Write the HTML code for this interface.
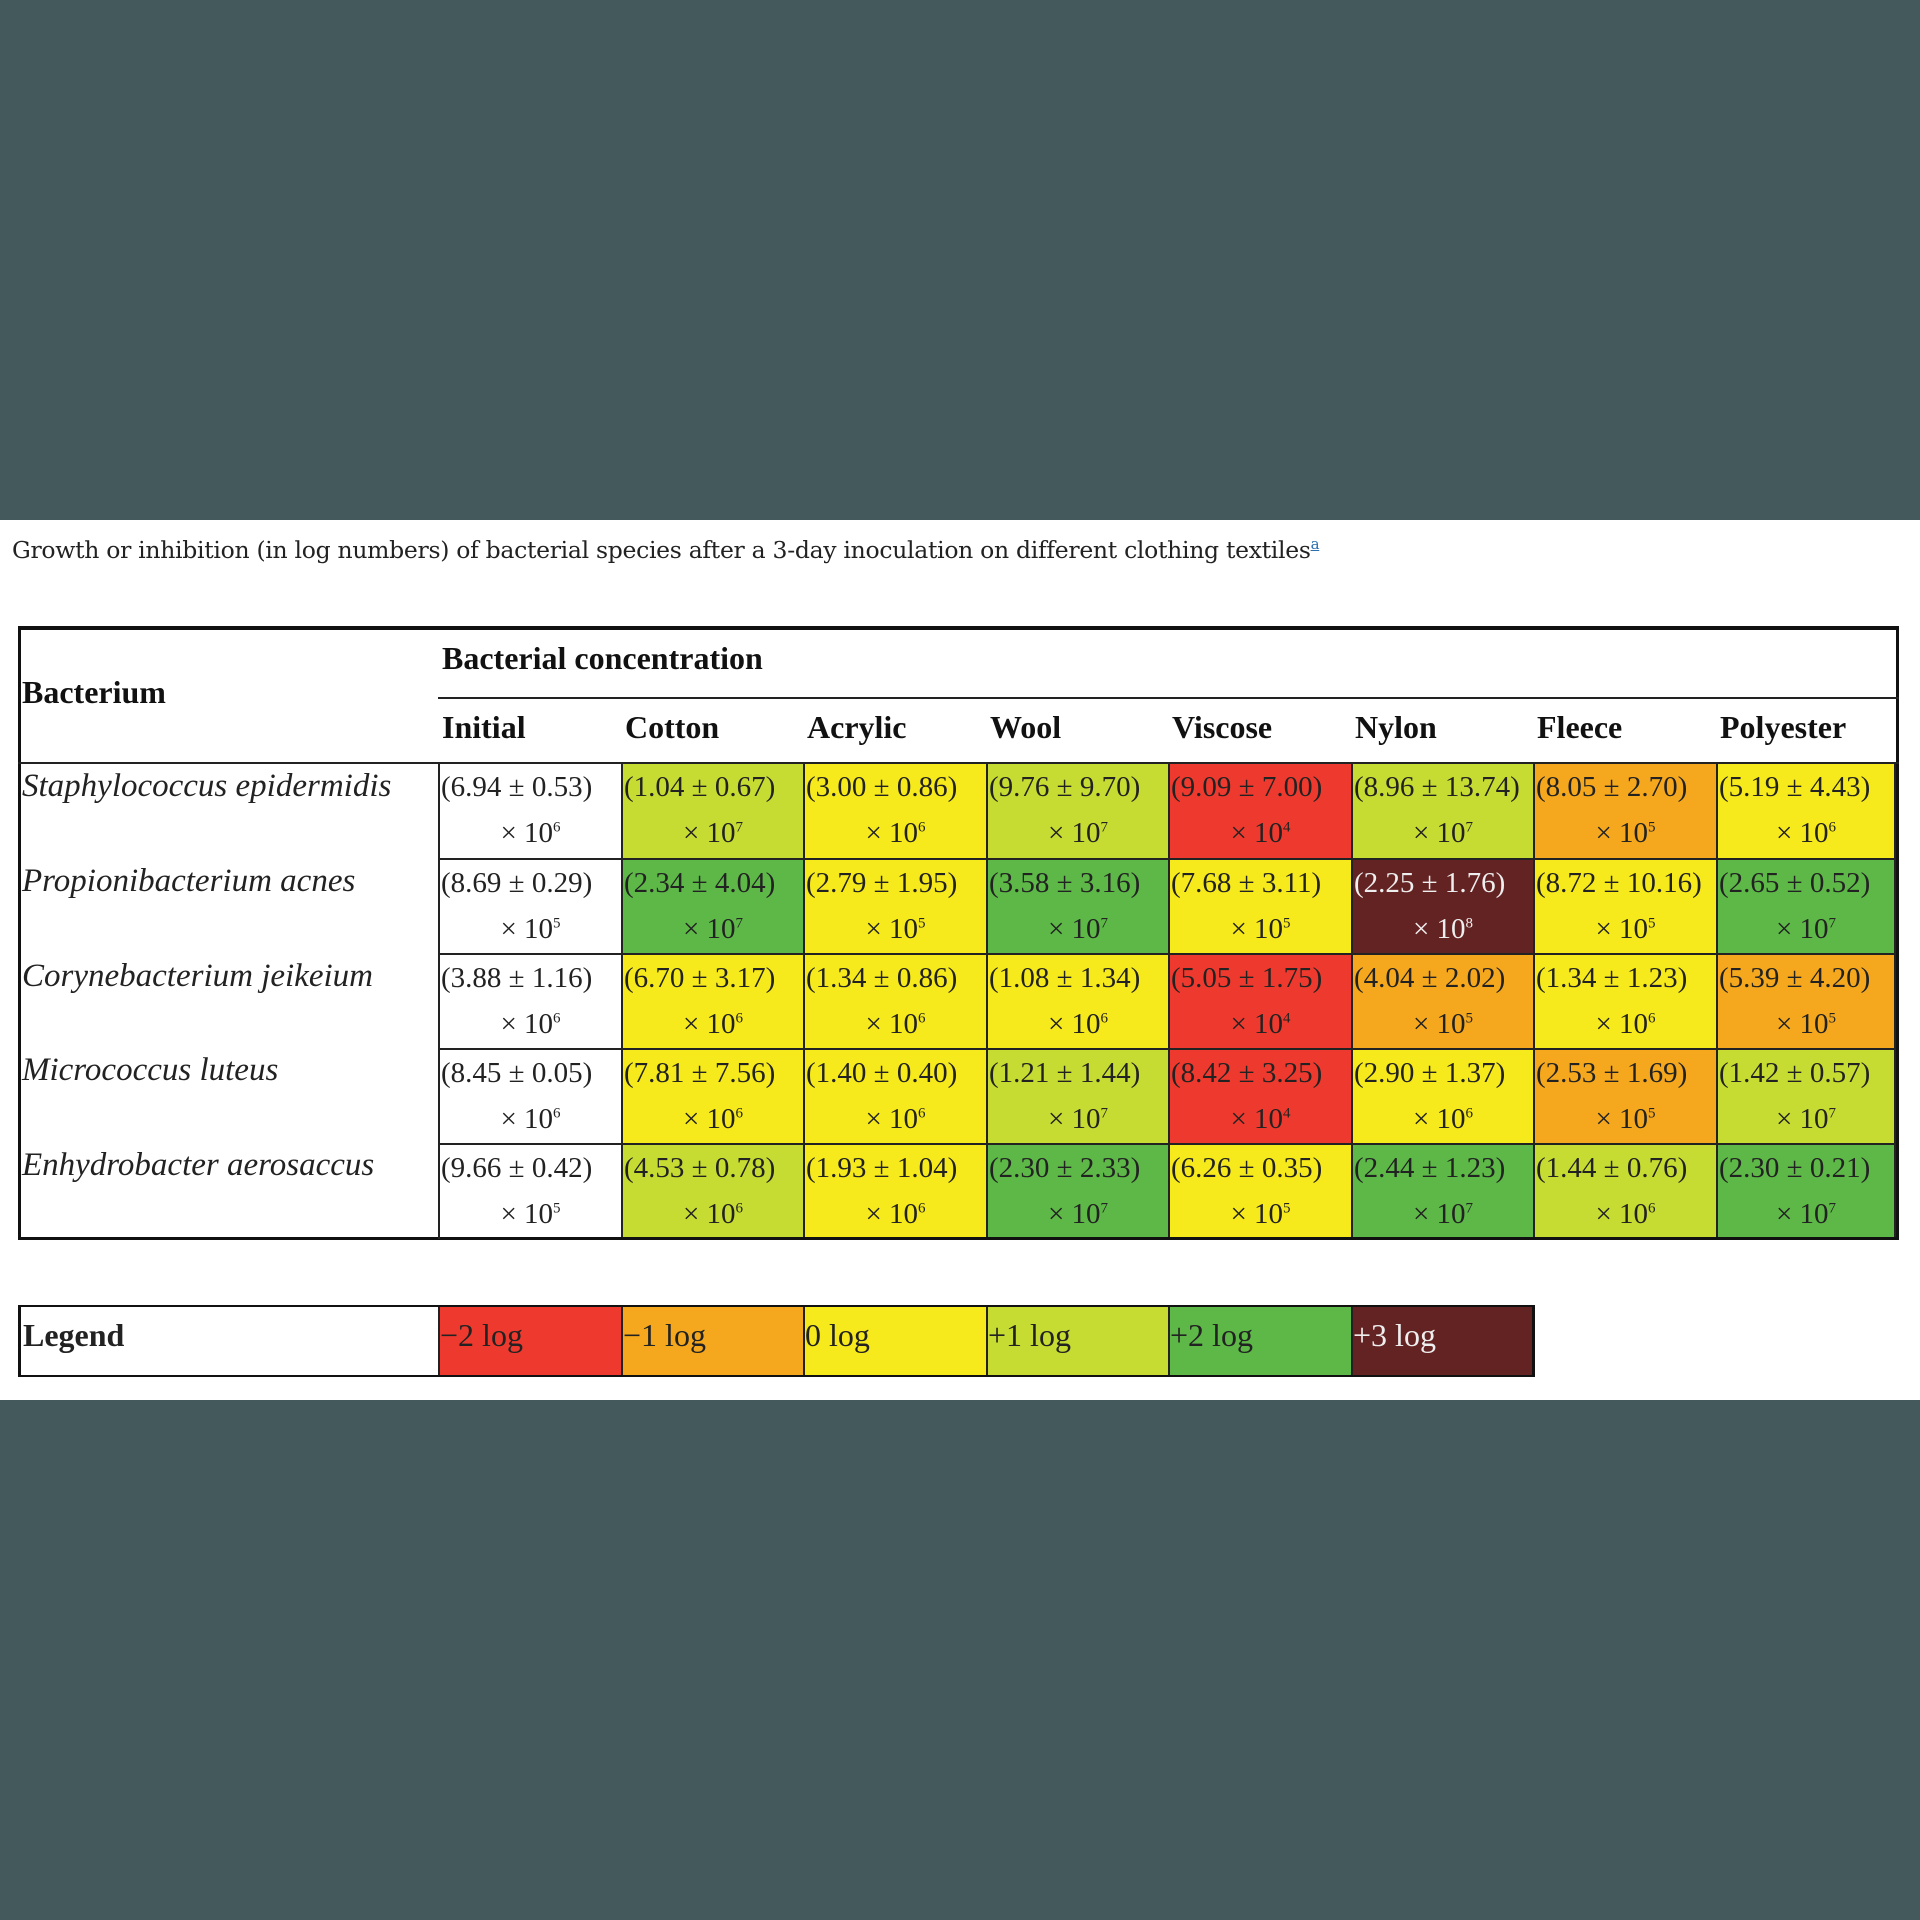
<!DOCTYPE html>
<html><head><meta charset="utf-8"><style>
body{margin:0;width:1920px;height:1920px;background:#43595b;position:relative;overflow:hidden;font-family:"Liberation Serif",serif}
.band{position:absolute;left:0;top:520px;width:1920px;height:880px;background:#fff}
.cap{position:absolute;left:12px;top:535px;font-size:23.5px;color:#222;font-family:"DejaVu Serif","Liberation Serif",serif;letter-spacing:-0.3px}
.cap sup{color:#2a6fb0;text-decoration:underline;font-size:15px}
.c{position:absolute;box-sizing:border-box;border-right:2px solid #222;border-bottom:2px solid #222;font-size:29px;color:#222}
.c .a{position:absolute;left:1px;top:7px;white-space:nowrap}
.c .b{position:absolute;left:0;width:100%;text-align:center;top:53px}
.c .b sup{font-size:15px}
.R{background:#ee3a2e}.O{background:#f5a81e}.Y{background:#f7ea1c}.YG{background:#c7dc32}.G{background:#5db848}.M{background:#642323;color:#eee !important}.W{background:#fff}
.name{position:absolute;left:22px;font-size:33px;font-style:italic;color:#222}
.h{position:absolute;font-weight:bold;font-size:32px;color:#111}
.lg{position:absolute;top:1307px;height:68px;box-sizing:border-box;border-right:2px solid #222;font-size:32px;padding-top:10px;color:#222}
</style></head><body>
<div class="band"></div>
<div class="cap">Growth or inhibition (in log numbers) of bacterial species after a 3-day inoculation on different clothing textiles<sup>a</sup></div>

<div style="position:absolute;left:18px;top:626px;width:1881px;height:614px;border:3px solid #111;border-top-width:4px;box-sizing:border-box"></div>
<div style="position:absolute;left:438px;top:697px;width:1461px;height:2px;background:#222"></div>
<div style="position:absolute;left:18px;top:762px;width:1881px;height:2px;background:#222"></div>
<div class="h" style="left:22px;top:674px">Bacterium</div>
<div class="h" style="left:442px;top:640px">Bacterial concentration</div>
<div class="h" style="left:442px;top:709px">Initial</div>
<div class="h" style="left:625px;top:709px">Cotton</div>
<div class="h" style="left:807px;top:709px">Acrylic</div>
<div class="h" style="left:990px;top:709px">Wool</div>
<div class="h" style="left:1172px;top:709px">Viscose</div>
<div class="h" style="left:1355px;top:709px">Nylon</div>
<div class="h" style="left:1537px;top:709px">Fleece</div>
<div class="h" style="left:1720px;top:709px">Polyester</div>

<div class="name" style="top:768px">Staphylococcus epidermidis</div>
<div class="name" style="top:863px">Propionibacterium acnes</div>
<div class="name" style="top:958px">Corynebacterium jeikeium</div>
<div class="name" style="top:1052px">Micrococcus luteus</div>
<div class="name" style="top:1147px">Enhydrobacter aerosaccus</div>

<div style="position:absolute;left:438px;top:764px;width:2px;height:475px;background:#222"></div>

<!-- Row 1 -->
<div class="c W" style="left:440px;top:764px;width:183px;height:96px"><span class="a">(6.94 ± 0.53)</span><span class="b">× 10<sup>6</sup></span></div>
<div class="c YG" style="left:623px;top:764px;width:182px;height:96px"><span class="a">(1.04 ± 0.67)</span><span class="b">× 10<sup>7</sup></span></div>
<div class="c Y" style="left:805px;top:764px;width:183px;height:96px"><span class="a">(3.00 ± 0.86)</span><span class="b">× 10<sup>6</sup></span></div>
<div class="c YG" style="left:988px;top:764px;width:182px;height:96px"><span class="a">(9.76 ± 9.70)</span><span class="b">× 10<sup>7</sup></span></div>
<div class="c R" style="left:1170px;top:764px;width:183px;height:96px"><span class="a">(9.09 ± 7.00)</span><span class="b">× 10<sup>4</sup></span></div>
<div class="c YG" style="left:1353px;top:764px;width:182px;height:96px"><span class="a">(8.96 ± 13.74)</span><span class="b">× 10<sup>7</sup></span></div>
<div class="c O" style="left:1535px;top:764px;width:183px;height:96px"><span class="a">(8.05 ± 2.70)</span><span class="b">× 10<sup>5</sup></span></div>
<div class="c Y" style="left:1718px;top:764px;width:178px;height:96px"><span class="a">(5.19 ± 4.43)</span><span class="b">× 10<sup>6</sup></span></div>
<!-- Row 2 -->
<div class="c W" style="left:440px;top:860px;width:183px;height:95px"><span class="a">(8.69 ± 0.29)</span><span class="b">× 10<sup>5</sup></span></div>
<div class="c G" style="left:623px;top:860px;width:182px;height:95px"><span class="a">(2.34 ± 4.04)</span><span class="b">× 10<sup>7</sup></span></div>
<div class="c Y" style="left:805px;top:860px;width:183px;height:95px"><span class="a">(2.79 ± 1.95)</span><span class="b">× 10<sup>5</sup></span></div>
<div class="c G" style="left:988px;top:860px;width:182px;height:95px"><span class="a">(3.58 ± 3.16)</span><span class="b">× 10<sup>7</sup></span></div>
<div class="c Y" style="left:1170px;top:860px;width:183px;height:95px"><span class="a">(7.68 ± 3.11)</span><span class="b">× 10<sup>5</sup></span></div>
<div class="c M" style="left:1353px;top:860px;width:182px;height:95px"><span class="a">(2.25 ± 1.76)</span><span class="b">× 10<sup>8</sup></span></div>
<div class="c Y" style="left:1535px;top:860px;width:183px;height:95px"><span class="a">(8.72 ± 10.16)</span><span class="b">× 10<sup>5</sup></span></div>
<div class="c G" style="left:1718px;top:860px;width:178px;height:95px"><span class="a">(2.65 ± 0.52)</span><span class="b">× 10<sup>7</sup></span></div>
<!-- Row 3 -->
<div class="c W" style="left:440px;top:955px;width:183px;height:95px"><span class="a">(3.88 ± 1.16)</span><span class="b">× 10<sup>6</sup></span></div>
<div class="c Y" style="left:623px;top:955px;width:182px;height:95px"><span class="a">(6.70 ± 3.17)</span><span class="b">× 10<sup>6</sup></span></div>
<div class="c Y" style="left:805px;top:955px;width:183px;height:95px"><span class="a">(1.34 ± 0.86)</span><span class="b">× 10<sup>6</sup></span></div>
<div class="c Y" style="left:988px;top:955px;width:182px;height:95px"><span class="a">(1.08 ± 1.34)</span><span class="b">× 10<sup>6</sup></span></div>
<div class="c R" style="left:1170px;top:955px;width:183px;height:95px"><span class="a">(5.05 ± 1.75)</span><span class="b">× 10<sup>4</sup></span></div>
<div class="c O" style="left:1353px;top:955px;width:182px;height:95px"><span class="a">(4.04 ± 2.02)</span><span class="b">× 10<sup>5</sup></span></div>
<div class="c Y" style="left:1535px;top:955px;width:183px;height:95px"><span class="a">(1.34 ± 1.23)</span><span class="b">× 10<sup>6</sup></span></div>
<div class="c O" style="left:1718px;top:955px;width:178px;height:95px"><span class="a">(5.39 ± 4.20)</span><span class="b">× 10<sup>5</sup></span></div>
<!-- Row 4 -->
<div class="c W" style="left:440px;top:1050px;width:183px;height:95px"><span class="a">(8.45 ± 0.05)</span><span class="b">× 10<sup>6</sup></span></div>
<div class="c Y" style="left:623px;top:1050px;width:182px;height:95px"><span class="a">(7.81 ± 7.56)</span><span class="b">× 10<sup>6</sup></span></div>
<div class="c Y" style="left:805px;top:1050px;width:183px;height:95px"><span class="a">(1.40 ± 0.40)</span><span class="b">× 10<sup>6</sup></span></div>
<div class="c YG" style="left:988px;top:1050px;width:182px;height:95px"><span class="a">(1.21 ± 1.44)</span><span class="b">× 10<sup>7</sup></span></div>
<div class="c R" style="left:1170px;top:1050px;width:183px;height:95px"><span class="a">(8.42 ± 3.25)</span><span class="b">× 10<sup>4</sup></span></div>
<div class="c Y" style="left:1353px;top:1050px;width:182px;height:95px"><span class="a">(2.90 ± 1.37)</span><span class="b">× 10<sup>6</sup></span></div>
<div class="c O" style="left:1535px;top:1050px;width:183px;height:95px"><span class="a">(2.53 ± 1.69)</span><span class="b">× 10<sup>5</sup></span></div>
<div class="c YG" style="left:1718px;top:1050px;width:178px;height:95px"><span class="a">(1.42 ± 0.57)</span><span class="b">× 10<sup>7</sup></span></div>
<!-- Row 5 -->
<div class="c W" style="left:440px;top:1145px;width:183px;height:92px;border-bottom:none"><span class="a">(9.66 ± 0.42)</span><span class="b">× 10<sup>5</sup></span></div>
<div class="c YG" style="left:623px;top:1145px;width:182px;height:92px;border-bottom:none"><span class="a">(4.53 ± 0.78)</span><span class="b">× 10<sup>6</sup></span></div>
<div class="c Y" style="left:805px;top:1145px;width:183px;height:92px;border-bottom:none"><span class="a">(1.93 ± 1.04)</span><span class="b">× 10<sup>6</sup></span></div>
<div class="c G" style="left:988px;top:1145px;width:182px;height:92px;border-bottom:none"><span class="a">(2.30 ± 2.33)</span><span class="b">× 10<sup>7</sup></span></div>
<div class="c Y" style="left:1170px;top:1145px;width:183px;height:92px;border-bottom:none"><span class="a">(6.26 ± 0.35)</span><span class="b">× 10<sup>5</sup></span></div>
<div class="c G" style="left:1353px;top:1145px;width:182px;height:92px;border-bottom:none"><span class="a">(2.44 ± 1.23)</span><span class="b">× 10<sup>7</sup></span></div>
<div class="c YG" style="left:1535px;top:1145px;width:183px;height:92px;border-bottom:none"><span class="a">(1.44 ± 0.76)</span><span class="b">× 10<sup>6</sup></span></div>
<div class="c G" style="left:1718px;top:1145px;width:178px;height:92px;border-bottom:none"><span class="a">(2.30 ± 0.21)</span><span class="b">× 10<sup>7</sup></span></div>

<!-- Legend -->
<div style="position:absolute;left:18px;top:1305px;width:1517px;height:72px;border:3px solid #111;box-sizing:border-box"></div>
<div class="lg W" style="left:21px;width:419px;font-weight:bold;padding-left:2px">Legend</div>
<div class="lg R" style="left:440px;width:183px">−2 log</div>
<div class="lg O" style="left:623px;width:182px">−1 log</div>
<div class="lg Y" style="left:805px;width:183px">0 log</div>
<div class="lg YG" style="left:988px;width:182px">+1 log</div>
<div class="lg G" style="left:1170px;width:183px">+2 log</div>
<div class="lg M" style="left:1353px;width:179px;border-right:none">+3 log</div>
</body></html>
